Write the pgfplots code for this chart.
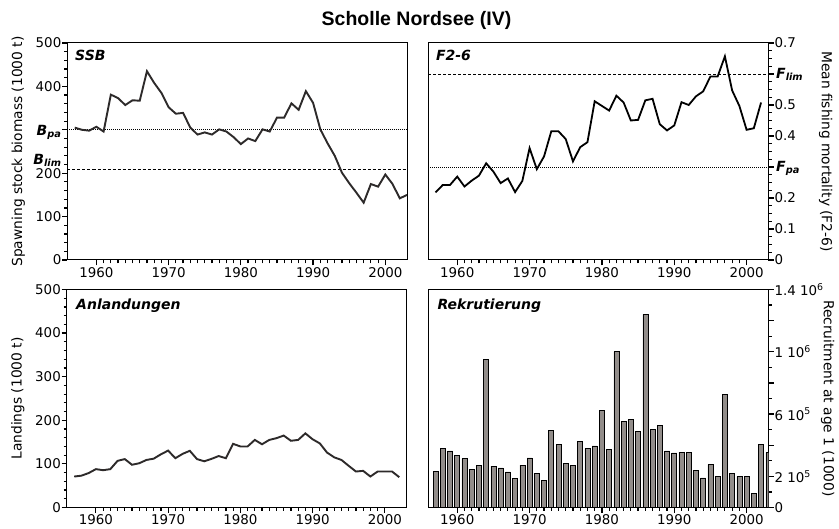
\documentclass[border=0pt]{standalone}
\usepackage{pgfplots}
\pgfplotsset{compat=1.18}
\usepackage{fontspec}
\setmainfont{DejaVu Sans}[BoldFont={DejaVu Sans Bold},ItalicFont={DejaVu Sans Oblique},BoldItalicFont={DejaVu Sans Bold Oblique}]
\newfontfamily\titlefont{Liberation Sans}
\definecolor{barfill}{RGB}{146,141,138}
\definecolor{linegray}{RGB}{45,42,42}
\newcommand{\tickfont}{\fontsize{13.4}{16}\selectfont}
\newcommand{\labfont}{\fontsize{13.8}{16}\selectfont}
\newcommand{\panfont}{\bfseries\itshape\fontsize{14}{16}\selectfont}
\pgfplotsset{
  panel/.style={
    scale only axis,
    xmin=1956, xmax=2003,
    xtick={1960,1970,1980,1990,2000},
    xticklabels={1960,1970,1980,1990,2000},
    minor x tick num=9,
    tick align=outside,
    tick pos=left,
    major tick length=5.5pt,
    minor tick length=3.5pt,
    axis line style={line width=1pt},
    major tick style={black, line width=1.2pt},
    minor tick style={black, line width=1.2pt},
    xticklabel style={font=\tickfont, inner sep=1.5pt},
    yticklabel style={font=\tickfont, inner sep=0.5pt},
    scaled y ticks=false,
    clip mode=individual,
  },
  leftlab/.style={every axis y label/.style={at={(axis description cs:-0.145,0.5)}, rotate=90, anchor=center, font=\labfont}},
  rightlab/.style={every axis y label/.style={at={(axis description cs:#1,0.5)}, rotate=-90, anchor=center, font=\labfont}},
}
\begin{document}
\begin{tikzpicture}
\useasboundingbox (0,0) rectangle (839pt,529pt);
\node[font=\titlefont\bfseries\fontsize{19.5}{22}\selectfont] at (416.5pt,509pt) {Scholle Nordsee (IV)};

% ---------- SSB ----------
\begin{axis}[panel, at={(67.5pt,269pt)}, anchor=south west, width=339.5pt, height=217pt,
  ymin=0, ymax=500, ytick={0,100,200,300,400,500}, yticklabels={0,100,200,,400,500},
  minor y tick num=4,
  leftlab, ylabel={Spawning stock biomass (1000 t)}]
\addplot[dash pattern=on 0.8pt off 1.2pt, line width=0.6pt, black] coordinates {(1956,300) (2003,300)};
\addplot[dash pattern=on 3pt off 2pt, line width=0.6pt, black] coordinates {(1956,210) (2003,210)};
\addplot[linegray, line width=1.9pt] coordinates {
(1957,305) (1958,300) (1959,298) (1960,307) (1961,296) (1962,381) (1963,373) (1964,357)
(1965,368) (1966,367) (1967,435) (1968,408) (1969,385) (1970,352) (1971,337) (1972,339)
(1973,305) (1974,289) (1975,294) (1976,289) (1977,301) (1978,296) (1979,283) (1980,267)
(1981,280) (1982,274) (1983,301) (1984,296) (1985,328) (1986,328) (1987,361) (1988,346)
(1989,389) (1990,362) (1991,301) (1992,269) (1993,240) (1994,201) (1995,177) (1996,155)
(1997,132) (1998,175) (1999,169) (2000,197) (2001,175) (2002,142) (2003,150)};
\node[anchor=north west, inner sep=0pt, font=\panfont, xshift=7.5pt, yshift=-7pt] at (rel axis cs:0,1) {SSB};
\node[anchor=base east, inner sep=0pt, font=\panfont, xshift=-5.8pt, yshift=-5.7pt] at (axis cs:1956,300) {B\textsubscript{pa}};
\node[anchor=base east, inner sep=0pt, font=\panfont, xshift=-5.8pt, yshift=4.5pt] at (axis cs:1956,210) {B\textsubscript{lim}};
\end{axis}

% ---------- F ----------
\begin{axis}[panel, at={(428.3pt,269pt)}, anchor=south west, width=340pt, height=217pt,
  ymin=0, ymax=0.7, ytick={0,0.1,0.2,0.3,0.4,0.5,0.6,0.7},
  yticklabels={0,0.1,0.2,,0.4,0.5,,0.7},
  minor y tick num=3,
  ytick pos=right, yticklabel pos=right,
  rightlab=1.169, ylabel={Mean fishing mortality (F2-6)}]
\addplot[dash pattern=on 3pt off 2pt, line width=0.6pt, black] coordinates {(1956,0.6) (2003,0.6)};
\addplot[dash pattern=on 0.8pt off 1.2pt, line width=0.6pt, black] coordinates {(1956,0.3) (2003,0.3)};
\addplot[black, line width=1.8pt] coordinates {
(1957,0.218) (1958,0.242) (1959,0.242) (1960,0.269) (1961,0.237) (1962,0.256) (1963,0.272)
(1964,0.312) (1965,0.285) (1966,0.248) (1967,0.263) (1968,0.219) (1969,0.255) (1970,0.361)
(1971,0.293) (1972,0.334) (1973,0.415) (1974,0.415) (1975,0.390) (1976,0.318) (1977,0.364)
(1978,0.380) (1979,0.512) (1980,0.497) (1981,0.482) (1982,0.530) (1983,0.508) (1984,0.450)
(1985,0.452) (1986,0.515) (1987,0.520) (1988,0.438) (1989,0.418) (1990,0.434) (1991,0.509)
(1992,0.500) (1993,0.528) (1994,0.544) (1995,0.592) (1996,0.592) (1997,0.657) (1998,0.547)
(1999,0.497) (2000,0.420) (2001,0.425) (2002,0.508)};
\node[anchor=north west, inner sep=0pt, font=\panfont, xshift=7.5pt, yshift=-7pt] at (rel axis cs:0,1) {F2-6};
\node[anchor=base west, inner sep=0pt, font=\panfont, xshift=7.7pt, yshift=-4.3pt] at (axis cs:2003,0.6) {F\textsubscript{lim}};
\node[anchor=base west, inner sep=0pt, font=\panfont, xshift=7.7pt, yshift=-4.7pt] at (axis cs:2003,0.3) {F\textsubscript{pa}};
\end{axis}

% ---------- Landings ----------
\begin{axis}[panel, at={(67pt,21.5pt)}, anchor=south west, width=339.5pt, height=218pt,
  ymin=0, ymax=500, ytick={0,100,200,300,400,500}, yticklabels={0,100,200,300,400,500},
  minor y tick num=4,
  leftlab, ylabel={Landings (1000 t)}]
\addplot[linegray, line width=1.9pt] coordinates {
(1957,71) (1958,73) (1959,79) (1960,88) (1961,85.5) (1962,88) (1963,107) (1964,111)
(1965,98) (1966,101.5) (1967,109) (1968,112) (1969,122) (1970,130.5) (1971,113) (1972,123)
(1973,130) (1974,111) (1975,106) (1976,111.5) (1977,118) (1978,113) (1979,146) (1980,140)
(1981,140) (1982,155) (1983,145) (1984,155) (1985,159) (1986,165) (1987,153) (1988,155)
(1989,170) (1990,156.5) (1991,147) (1992,126) (1993,115) (1994,109) (1995,95.5) (1996,82.5)
(1997,84) (1998,71) (1999,82.5) (2000,82.5) (2001,82.5) (2002,69.5)};
\node[anchor=north west, inner sep=0pt, font=\panfont, xshift=9pt, yshift=-9pt] at (rel axis cs:0,1) {Anlandungen};
\end{axis}

% ---------- Recruitment ----------
\begin{axis}[panel, at={(428.3pt,21.5pt)}, anchor=south west, width=340pt, height=218pt,
  ymin=0, ymax=1400000,
  ytick={0,200000,400000,600000,800000,1000000,1200000,1400000},
  yticklabels={0,2 10\textsuperscript{5},,6 10\textsuperscript{5},,1 10\textsuperscript{6},,1.4 10\textsuperscript{6}},
  minor y tick num=1,
  ytick pos=right, yticklabel pos=right,
  rightlab=1.175, ylabel={Recruitment at age 1 (1000)}]
\addplot[ybar, bar width=5pt, fill=barfill, draw=black, line width=0.6pt] coordinates {
(1957,230000) (1958,377000) (1959,364000) (1960,337000) (1961,313000) (1962,243000)
(1963,272000) (1964,953000) (1965,266000) (1966,254000) (1967,228000) (1968,188000)
(1969,272000) (1970,319000) (1971,221000) (1972,176000) (1973,496000) (1974,406000)
(1975,281000) (1976,272000) (1977,424000) (1978,379000) (1979,395000) (1980,623000)
(1981,375000) (1982,1000000) (1983,551000) (1984,565000) (1985,487000) (1986,1240000)
(1987,502000) (1988,525000) (1989,364000) (1990,350000) (1991,355000) (1992,355000)
(1993,239000) (1994,190000) (1995,275000) (1996,201000) (1997,726000) (1998,217000)
(1999,199000) (2000,201000) (2001,89000) (2002,404000) (2003,353000)};
\node[anchor=north west, inner sep=0pt, font=\panfont, xshift=9pt, yshift=-9pt] at (rel axis cs:0,1) {Rekrutierung};
\end{axis}
\end{tikzpicture}
\end{document}
